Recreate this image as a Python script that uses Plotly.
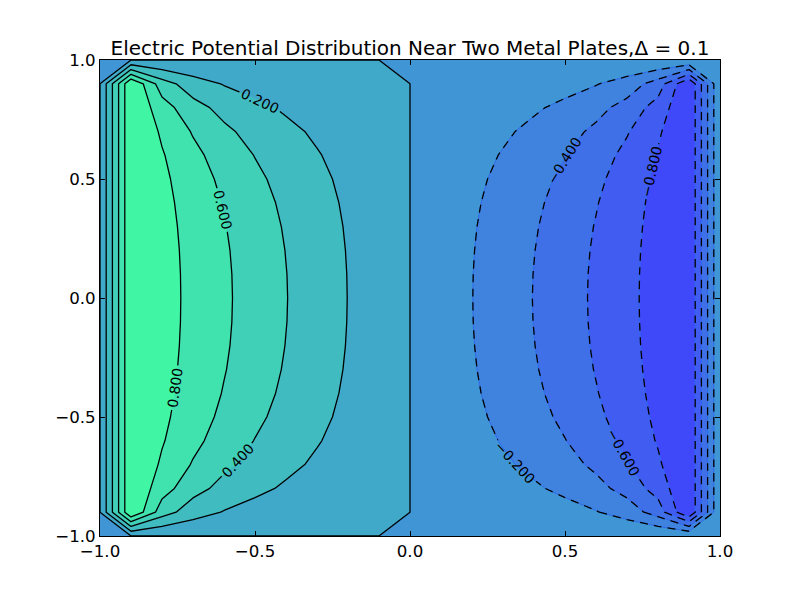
import plotly.graph_objects as go

# grid coordinates (Delta = 0.1)
x_vals = [-1.0, -0.9, -0.8, -0.7, -0.6, -0.5, -0.4, -0.3, -0.2, -0.1, 0.0,
          0.1, 0.2, 0.3, 0.4, 0.5, 0.6, 0.7, 0.8, 0.9, 1.0]
y_vals = [-1.0, -0.9, -0.8, -0.7, -0.6, -0.5, -0.4, -0.3, -0.2, -0.1, 0.0,
          0.1, 0.2, 0.3, 0.4, 0.5, 0.6, 0.7, 0.8, 0.9, 1.0]

# potential rows, one per y value (bottom to top)
row_y10 = [0] * 21
row_y09 = [0, 1, 0.4934, 0.2890, 0.1892, 0.1313, 0.0926, 0.0637, 0.0401, 0.0194, 0, -0.0194, -0.0401, -0.0637, -0.0926, -0.1313, -0.1892, -0.2890, -0.4934, -1, 0]
row_y08 = [0, 1, 0.6845, 0.4735, 0.3366, 0.2434, 0.1754, 0.1221, 0.0774, 0.0376, 0, -0.0376, -0.0774, -0.1221, -0.1754, -0.2434, -0.3366, -0.4735, -0.6845, -1, 0]
row_y07 = [0, 1, 0.7710, 0.5838, 0.4404, 0.3304, 0.2435, 0.1717, 0.1098, 0.0536, 0, -0.0536, -0.1098, -0.1717, -0.2435, -0.3304, -0.4404, -0.5838, -0.7710, -1, 0]
row_y06 = [0, 1, 0.8156, 0.6505, 0.5108, 0.3943, 0.2963, 0.2117, 0.1364, 0.0668, 0, -0.0668, -0.1364, -0.2117, -0.2963, -0.3943, -0.5108, -0.6505, -0.8156, -1, 0]
row_y05 = [0, 1, 0.8408, 0.6917, 0.5579, 0.4398, 0.3356, 0.2424, 0.1573, 0.0774, 0, -0.0774, -0.1573, -0.2424, -0.3356, -0.4398, -0.5579, -0.6917, -0.8408, -1, 0]
row_y04 = [0, 1, 0.8560, 0.7178, 0.5892, 0.4714, 0.3639, 0.2651, 0.1730, 0.0854, 0, -0.0854, -0.1730, -0.2651, -0.3639, -0.4714, -0.5892, -0.7178, -0.8560, -1, 0]
row_y03 = [0, 1, 0.8653, 0.7342, 0.6096, 0.4927, 0.3835, 0.2811, 0.1843, 0.0912, 0, -0.0912, -0.1843, -0.2811, -0.3835, -0.4927, -0.6096, -0.7342, -0.8653, -1, 0]
row_y02 = [0, 1, 0.8709, 0.7443, 0.6224, 0.5063, 0.3962, 0.2917, 0.1917, 0.0950, 0, -0.0950, -0.1917, -0.2917, -0.3962, -0.5063, -0.6224, -0.7443, -0.8709, -1, 0]
row_y01 = [0, 1, 0.8739, 0.7498, 0.6294, 0.5138, 0.4033, 0.2976, 0.1960, 0.0973, 0, -0.0973, -0.1960, -0.2976, -0.4033, -0.5138, -0.6294, -0.7498, -0.8739, -1, 0]
row_y00 = [0, 1, 0.8748, 0.7515, 0.6316, 0.5162, 0.4056, 0.2996, 0.1974, 0.0980, 0, -0.0980, -0.1974, -0.2996, -0.4056, -0.5162, -0.6316, -0.7515, -0.8748, -1, 0]

z_rows = [row_y10, row_y09, row_y08, row_y07, row_y06, row_y05, row_y04, row_y03, row_y02, row_y01,
          row_y00,
          row_y01, row_y02, row_y03, row_y04, row_y05, row_y06, row_y07, row_y08, row_y09, row_y10]

tick_vals = [-1.0, -0.5, 0.0, 0.5, 1.0]

# winter colormap bands (alpha 0.75 over white), one colour per 0.2 band from -1 to 1
band_colors = ["rgb(64,73,250)", "rgb(64,92,241)", "rgb(64,112,231)", "rgb(64,131,222)",
               "rgb(64,150,212)", "rgb(64,169,202)", "rgb(64,188,193)", "rgb(64,207,183)",
               "rgb(64,226,174)", "rgb(64,245,164)"]
colorscale = [[k / 9, c] for k, c in enumerate(band_colors)]

FONT = "DejaVu Sans"
label_font = dict(family=FONT, size=14, color="black")
EPS = 1e-9  # bands are (lo, hi]: values lying exactly on a level go to the lower band

fig = go.Figure()
# filled bands
fig.add_trace(go.Contour(
    x=x_vals, y=y_vals, z=z_rows,
    contours=dict(start=-0.8 + EPS, end=0.8 + EPS, size=0.2, coloring="fill", showlines=False),
    colorscale=colorscale, showscale=False, line=dict(width=0, smoothing=0), hoverinfo="skip"))
# seams under the dashed negative contours
fig.add_trace(go.Contour(
    x=x_vals, y=y_vals, z=z_rows,
    contours=dict(start=-0.8, end=-0.2, size=0.2, coloring="none"),
    line=dict(color="rgb(45,105,238)", width=1, smoothing=0), showscale=False, hoverinfo="skip"))
# zero contour (solid, unlabeled)
fig.add_trace(go.Contour(
    x=x_vals, y=y_vals, z=z_rows,
    contours=dict(start=0.0, end=0.0, size=0.2, coloring="none"),
    line=dict(color="black", width=1.3, smoothing=0), showscale=False, hoverinfo="skip"))
# positive contour lines (solid)
fig.add_trace(go.Contour(
    x=x_vals, y=y_vals, z=z_rows,
    contours=dict(start=0.2, end=0.8, size=0.2, coloring="none", showlabels=True,
                  labelformat=".3f", labelfont=label_font),
    line=dict(color="black", width=1.3, smoothing=0), showscale=False, hoverinfo="skip"))
# negative contour lines (dashed)
fig.add_trace(go.Contour(
    x=x_vals, y=y_vals, z=z_rows,
    contours=dict(start=-0.8, end=-0.2, size=0.2, coloring="none", showlabels=True,
                  labelformat=".3f", labelfont=label_font),
    line=dict(color="black", width=1.3, dash="8px,6px", smoothing=0), showscale=False,
    hoverinfo="skip"))

axis_common = dict(range=[-1, 1], tickvals=tick_vals, tickformat=".1f", ticks="inside",
                   ticklen=5, tickwidth=1, tickcolor="black", mirror="allticks",
                   showline=True, linecolor="black", linewidth=1, showgrid=False,
                   zeroline=False, tickfont=dict(family=FONT, size=16.67, color="black"))

fig.update_layout(
    width=800, height=596,
    margin=dict(l=100, r=80, t=60, b=60),
    paper_bgcolor="white", plot_bgcolor="white",
    title=dict(text="Electric Potential Distribution Near Two Metal Plates,Δ = 0.1",
               font=dict(family=FONT, size=20, color="black"),
               x=0.5, xref="paper", xanchor="center",
               y=1, yref="paper", yanchor="bottom", pad=dict(b=5)),
    xaxis=axis_common, yaxis=axis_common,
    showlegend=False,
)

fig.write_html("out.html")
